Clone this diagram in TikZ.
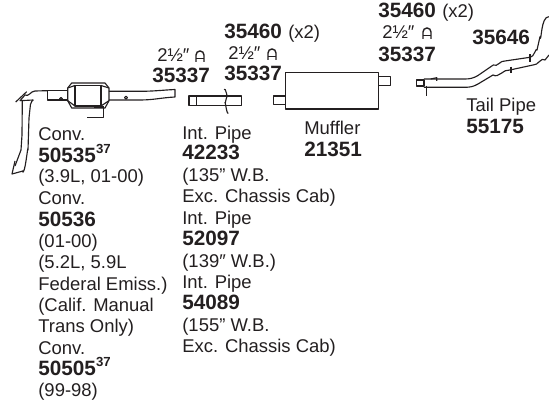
\documentclass[tikz,border=0pt]{standalone}
\usepackage{fontspec}
\setmainfont{Liberation Sans}
\definecolor{inkc}{HTML}{231F20}
\tikzset{
  txt/.style={anchor=base west,inner sep=0pt,text=inkc,font=\fontsize{10.5}{12}\selectfont},
  num/.style={txt,font=\fontsize{11.8}{13}\selectfont\bfseries},
  pipe/.style={draw=inkc,line width=.65pt,line join=round},
  clamp/.pic={
    \draw[inkc,line width=.8pt](0,0)--(0,-7) arc(180:360:4) --(8,0);
    \draw[inkc,line width=.8pt](0,-3.5)--(8,-3.5);
  }
}
\begin{document}
\begin{tikzpicture}[x=.02cm,y=-.02cm]
  \useasboundingbox(0,0) rectangle(549,404);
  % converter
  \draw[pipe](71.7,83)--(105,83)--(109,88)--(109,100.7)--(105,108)--(71.7,108)--(67.7,100.7)--(67.7,88)--cycle;
  \draw[pipe](75,85.5) rectangle(101,106);
  \draw[pipe](67.7,88)--(75,85.5);
  \draw[pipe](109,88)--(101,85.5);
  \draw[pipe](67.7,100.7)--(75,106);
  \draw[pipe](109,100.7)--(101,106);
  \draw[inkc,line width=1.4pt](94.3,107)--(104,107);
  \draw[pipe](103.3,107)--(103.3,117.3)--(87.3,117.3);
  \draw[pipe](109,91.3)--(140,91.3) to[out=0,in=183](175,89.5)--(175,97) to[out=183,in=0](140,100)--(109,100);
  \draw[pipe](126,97.7) circle(1.5);
  \draw[pipe](67.7,90.7)--(47.3,90.7)--(47.3,100)--(67.7,100);
  \draw[pipe](61,99) circle(1.5);
  % front pipe
  \draw[pipe](47.3,90.7)--(35,91) to[out=180,in=-35](25,95)--(20,100.7)--(33.3,100);
  \draw[pipe](33.3,100) to[out=180,in=-90](30.5,104)--(29,118)--(28,150) to[out=90,in=-70](22,171);
  \draw[pipe](22.3,101)--(22,135)--(21,150)--(15,166);
  \draw[pipe](26.7,91.7)--(15.7,102);
  \draw[pipe](15,161)--(12,174)--(23,171);
  % int pipe
  \draw[pipe](189,96) rectangle(241.7,105.3);
  \draw[pipe](196.7,96)--(196.7,105.3);
  \draw[pipe](224,89.3) to[out=60,in=-80](227.3,96.7) to[out=100,in=-90](225,103) to[out=90,in=-110](228.3,112.7);
  % muffler
  \draw[pipe](285.7,72.3) rectangle(378.3,109);
  \draw[pipe](273.3,96) rectangle(285.7,104.3);
  \draw[pipe](378.3,76.7) rectangle(390.7,85.3);
  % tail pipe
  \draw[pipe](416.7,80) rectangle(424,86);
  \draw[pipe](424,79)--(465,79) to[out=0,in=-150](478,75.5)--(493.3,65) to[out=-30,in=170](505,61)--(530,57.3) to[out=-10,in=100](537,50)--(540,36.7) to[out=-80,in=175](549,16.7);
  \draw[pipe](424,87.3)--(465,87.3) to[out=0,in=-150](478,84)--(493,75) to[out=-30,in=170](510,70)--(533,65) to[out=-10,in=135](545,60)--(549,55);
  \draw[pipe](530,54.3)--(530,61.7);
  \draw[pipe](511,66.7)--(511,73.3);
  \draw[pipe](426.7,85.7)--(426.7,96);
  \draw[pipe](430.7,79)--(436.7,77.7)--(436.7,81);
  % part numbers over the pipes
  \node[txt](sizea) at(157,62){2½″};
  \node[txt](sizeb) at(228,60){2½″};
  \node[txt](sizec) at(382,39){2½″};
  \pic at(196,62){clamp};
  \pic at(268,60){clamp};
  \pic at(423,39){clamp};
  \node[num](clampa) at(152,83){35337};
  \node[num](clampb) at(224,81){35337};
  \node[num](clampc) at(378,62){35337};
  \node[num](hangera) at(224,39){35460};
  \node[txt](countera) at(288,39){(x2)};
  \node[num](hangerb) at(378,18){35460};
  \node[txt](counterb) at(442,18){(x2)};
  \node[num](hangerc) at(472,45){35646};
  % converter column
  \node[txt](conva) at(38,141){Conv.};
  \node[num](convanum) at(38,163){50535\raisebox{.9ex}{\fontsize{7.5}{8}\selectfont 37}};
  \node[txt](convanote) at(38,183){(3.9L, 01-00)};
  \node[txt](convb) at(38,205){Conv.};
  \node[num](convbnum) at(38,227){50536};
  \node[txt](convbnote) at(38,248){(01-00)};
  \node[txt](convbengine) at(38,269){(5.2L, 5.9L};
  \node[txt](convbfed) at(38,291){Federal Emiss.)};
  \node[txt](convbcalif) at(38,312){(Calif. Manual};
  \node[txt](convbtrans) at(38,333){Trans Only)};
  \node[txt](convc) at(38,355){Conv.};
  \node[num](convcnum) at(38,376){50505\raisebox{.9ex}{\fontsize{7.5}{8}\selectfont 37}};
  \node[txt](convcnote) at(38,397){(99-98)};
  % int pipe column
  \node[txt](inta) at(182,140){Int. Pipe};
  \node[num](intanum) at(182,160){42233};
  \node[txt](intawb) at(182,182){(135" W.B.};
  \node[txt](intaexc) at(182,203){Exc. Chassis Cab)};
  \node[txt](intb) at(182,225){Int. Pipe};
  \node[num](intbnum) at(182,246){52097};
  \node[txt](intbwb) at(182,268){(139″ W.B.)};
  \node[txt](intc) at(182,289){Int. Pipe};
  \node[num](intcnum) at(182,310){54089};
  \node[txt](intcwb) at(182,332){(155" W.B.};
  \node[txt](intcexc) at(182,353){Exc. Chassis Cab)};
  % muffler, tail pipe
  \node[txt](muffler) at(304,135){Muffler};
  \node[num](mufflernum) at(304,157){21351};
  \node[txt](tail) at(466,112){Tail Pipe};
  \node[num](tailnum) at(466,134){55175};
\end{tikzpicture}
\end{document}
